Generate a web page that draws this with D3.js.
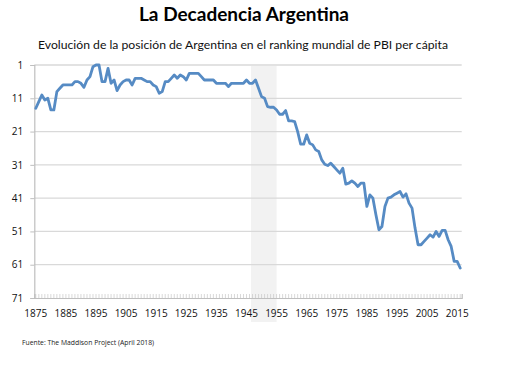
<!DOCTYPE html>
<html>
<head>
<meta charset="utf-8">
<script src="https://cdn.jsdelivr.net/npm/d3@7"></script>
<style>
  body { margin: 0; background: #fff; }
  text { font-family: "Open Sans", "Liberation Sans", sans-serif; }
</style>
</head>
<body>
<div id="chart"></div>
<script>
// posicion de Argentina en el ranking de PBI per capita, 1875 - 2016
var startYear = 1875;
var ranks = [
  14, 12, 10, 11.5, 11, 14.5, 14.5, 9, 8, 7,          // 1875-1884
  7, 7, 7, 6, 6, 6.5, 7.7, 5.5, 4.5, 1.5,              // 1885-1894
  1, 1, 6, 6, 2, 6.5, 5.5, 8.7, 7, 6,                  // 1895-1904
  5.5, 5.5, 7, 5, 5, 5, 5.5, 6, 6, 7,                  // 1905-1914
  7.5, 9.5, 9, 6, 6, 5, 4, 5, 4, 4.5,                  // 1915-1924
  5.5, 3.5, 3.5, 3.5, 3.5, 4.5, 5.5, 5.5, 5.5, 5.5,    // 1925-1934
  6.5, 6.5, 6.5, 6.5, 7.5, 6.5, 6.5, 6.5, 6.5, 6.5,    // 1935-1944
  5.5, 6.5, 6.5, 5.5, 8, 10.5, 11, 13.5, 13.7, 13.7,   // 1945-1954
  14.5, 15.8, 15.8, 14.7, 17.8, 17.8, 18, 21, 24.8, 24.8, // 1955-1964
  22, 24.5, 25, 26.5, 27, 29.5, 30.8, 31.2, 30.5, 31.5, // 1965-1974
  32.5, 33.5, 32, 36.8, 36.5, 35.8, 36.5, 37.5, 36.5, 36.5, // 1975-1984
  43.5, 40, 41, 46, 50.5, 49.5, 43.5, 41, 40.7, 40,    // 1985-1994
  39.5, 39, 40.7, 39.7, 42.5, 44, 50, 55, 55, 54,      // 1995-2004
  53, 52, 52.7, 51, 52.5, 50.7, 50.7, 53.5, 55.5, 60,  // 2005-2014
  60, 62                                               // 2015-2016
];
var xTickLabels = ["1875","1885","1895","1905","1915","1925","1935","1945","1955","1965","1975","1985","1995","2005","2015"];
var yTickValues = [1, 11, 21, 31, 41, 51, 61, 71];
var shadeYears = [1947, 1955];   // peronismo

var title = "La Decadencia Argentina";
var subtitle = "Evolución de la posición de Argentina en el ranking mundial de PBI per cápita";
var source = "Fuente: The Maddison Project (April 2018)";

function base(){
    var w = 521;
    var h = 369;
    var left = 34.3, right = 461.7, top = 65, bottom = 298;

    var data = ranks.map(function(r, i) {
        return { year: String(startYear + i), rank: r };
    });

    var svg = d3.select("#chart")
    .append("svg")
    .attr("width", w)
    .attr("height", h);

    //scales
    var xScale = d3.scaleBand()
    .domain(data.map(function(d) { return d.year; }))
    .range([left, right]);

    var yScale = d3.scaleLinear()
    .domain([1, 71])
    .range([top, bottom]);

    var bw = xScale.bandwidth();

    //shaded period
    svg.append("rect")
    .attr("x", xScale(String(shadeYears[0])))
    .attr("y", top + 1)
    .attr("width", xScale(String(shadeYears[1])) + bw / 2 - xScale(String(shadeYears[0])))
    .attr("height", 322 - top - 1)
    .attr("fill", "#f2f2f2");

    //gridlines
    svg.selectAll(".grid")
    .data(yTickValues.slice(0, -1))
    .enter()
    .append("line")
    .attr("x1", left)
    .attr("x2", right)
    .attr("y1", function(d) { return yScale(d); })
    .attr("y2", function(d) { return yScale(d); })
    .attr("stroke", "#d9d9d9")
    .attr("stroke-width", 1.3);

    //y axis
    var yAxis = d3.axisLeft(yScale)
    .tickValues(yTickValues)
    .tickSize(4)
    .tickPadding(7);

    var gy = svg.append("g")
    .attr("transform", "translate(" + left + ",0)")
    .call(yAxis);
    gy.select(".domain").attr("stroke", "#bfbfbf").attr("stroke-width", 1.2);
    gy.selectAll(".tick line").attr("stroke", "#bfbfbf");
    gy.selectAll("text")
    .style("font-family", "'Open Sans', sans-serif")
    .style("font-size", "10px")
    .attr("fill", "#111");

    //x axis with a minor tick every year
    var xAxis = d3.axisBottom(xScale)
    .tickSize(-4)
    .tickFormat("");

    var gx = svg.append("g")
    .attr("transform", "translate(0," + bottom + ")")
    .call(xAxis);
    gx.select(".domain").attr("stroke", "#bfbfbf").attr("stroke-width", 1.2);
    gx.selectAll(".tick line").attr("stroke", "#c8c8c8").attr("stroke-width", 0.7);

    svg.selectAll(".xlab")
    .data(xTickLabels)
    .enter()
    .append("text")
    .attr("x", function(d) { return xScale(d) + bw / 2; })
    .attr("y", 317)
    .attr("text-anchor", "middle")
    .style("font-size", "10px")
    .attr("fill", "#111")
    .text(function(d) { return d; });

    //line
    var line = d3.line()
    .x(function(d) { return xScale(d.year) + bw / 2; })
    .y(function(d) { return yScale(d.rank); });

    svg.append("path")
    .datum(data)
    .attr("d", line)
    .attr("fill", "none")
    .attr("stroke", "#568bc4")
    .attr("stroke-width", 2.8)
    .attr("stroke-linejoin", "round")
    .attr("stroke-linecap", "round");

    //texts
    svg.append("text")
    .attr("x", 244)
    .attr("y", 21)
    .attr("text-anchor", "middle")
    .style("font-family", "Lato, 'Open Sans', sans-serif")
    .style("font-weight", "bold")
    .style("font-size", "19px")
    .attr("fill", "#000")
    .text(title);

    svg.append("text")
    .attr("x", 243)
    .attr("y", 48.5)
    .attr("text-anchor", "middle")
    .style("font-family", "Lato, 'Open Sans', sans-serif")
    .style("font-size", "12.2px")
    .attr("fill", "#111")
    .text(subtitle);

    svg.append("text")
    .attr("x", 22)
    .attr("y", 345)
    .style("font-size", "6.8px")
    .attr("fill", "#222")
    .text(source);
}

window.onload = base;
</script>
</body>
</html>
